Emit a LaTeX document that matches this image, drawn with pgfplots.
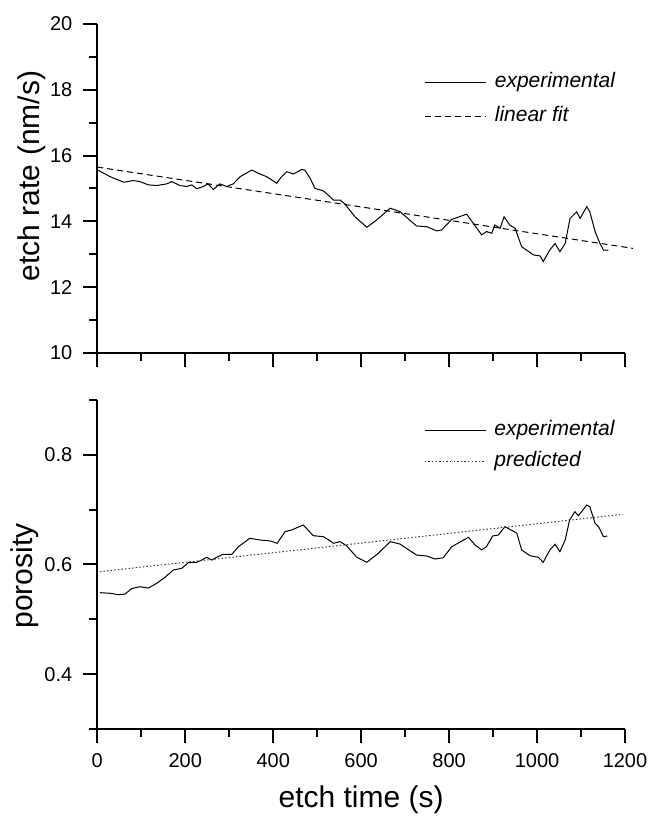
\documentclass[border=0pt]{standalone}
\usepackage{fontspec}
\setmainfont{Liberation Sans}
\usepackage{pgfplots}
\pgfplotsset{compat=1.18}

\pgfplotsset{
  common/.style={
    scale only axis,
    width=263.85bp, height=164.5bp,
    xmin=0, xmax=1200,
    axis x line*=bottom, axis y line*=left,
    x axis line style={-, line width=1bp},
    y axis line style={-, line width=1bp},
    tick align=outside,
    major tick length=7bp, minor tick length=4bp,
    every tick/.style={black, line width=1bp},
    xtick={0,200,...,1200}, minor x tick num=1,
    /pgf/number format/assume math mode=true,
    /pgf/number format/set thousands separator={},
    tick label style={font=\fontsize{10bp}{12bp}\selectfont},
    yticklabel style={xshift=-2bp},
    xticklabel style={yshift=-1.5bp},
    label style={font=\fontsize{15bp}{18bp}\selectfont},
    legend cell align=left,
    legend image code/.code={\draw[#1] (0bp,0bp) -- (30.5bp,0bp);},
    legend style={draw=none, fill=none, inner sep=0pt, column sep=4bp,
      font=\fontsize{10.5bp}{12bp}\selectfont\itshape,
      nodes={inner sep=0pt, text height=0.75em, text depth=0.25em}},
  },
  expstyle/.style={black, line width=0.5bp},
}

\begin{document}
\begin{tikzpicture}
\useasboundingbox (0,0) rectangle (324.5bp,412bp);

% ---------- top: etch rate ----------
\begin{axis}[common,
  at={(48.65bp,235.5bp)}, anchor=south west,
  ymin=10, ymax=20, ytick={10,12,...,20}, minor y tick num=1,
  xticklabels={},
  clip=false,
  ylabel={etch rate (nm/s)},
  ylabel style={at={(axis description cs:-0.125,0.538)}, anchor=center},
  legend style={at={(axis description cs:0.62,0.8526)}, anchor=north west, row sep=7bp},
]
\addplot[expstyle] coordinates {
(1,15.56) (29,15.36) (60,15.19) (82,15.24) (97,15.21) (116,15.11) (135,15.09)
(158,15.14) (169,15.21) (188,15.09) (203,15.06) (215,15.11) (226,14.99) (241,15.06)
(252,15.14) (264,14.97) (279,15.14) (294,15.06) (309,15.14) (325,15.36) (351,15.56)
(370,15.44) (385,15.36) (408,15.16) (419,15.36) (431,15.51) (446,15.44) (465,15.58)
(472,15.56) (484,15.31) (495,15.00) (514,14.93) (529,14.75) (537,14.65) (552,14.65)
(563,14.53) (586,14.14) (613,13.82) (635,14.04) (666,14.40) (688,14.30) (726,13.86)
(749,13.84) (772,13.71) (783,13.74) (806,14.06) (840,14.22) (855,13.94) (874,13.59)
(885,13.69) (897,13.64) (904,13.89) (916,13.79) (925,14.14) (938,13.89) (950,13.79)
(965,13.23) (992,12.98) (1007,12.95) (1014,12.78) (1029,13.13) (1041,13.33) (1052,13.08)
(1064,13.33) (1075,14.09) (1090,14.29) (1098,14.09) (1113,14.45) (1120,14.29) (1132,13.69)
(1143,13.33) (1151,13.13) (1162,13.13)
};
\addlegendentry{experimental}
\addplot[black, line width=0.5bp, dash pattern=on 3bp off 2bp] coordinates {
(0,15.65) (600,14.44) (1218,13.18)
};
\addlegendentry{linear fit}
\end{axis}

% ---------- bottom: porosity ----------
\begin{axis}[common,
  at={(48.65bp,47.5bp)}, anchor=south west,
  ymin=0.3, ymax=0.9, ytick={0.4,0.6,0.8}, minor ytick={0.3,0.5,0.7,0.9},
  yticklabel style={/pgf/number format/fixed, /pgf/number format/precision=1},
  clip=false,
  xlabel={etch time (s)},
  xlabel style={at={(axis description cs:0.5,0)}, anchor=center, yshift=-35.5bp},
  ylabel={porosity},
  ylabel style={at={(axis description cs:-0.137,0.465)}, anchor=center},
  legend style={at={(axis description cs:0.619,0.9377)}, anchor=north west, row sep=5.5bp},
]
\addplot[expstyle] coordinates {
(6,0.5486) (29,0.5475) (48,0.545) (63,0.546) (78,0.556) (97,0.5595) (116,0.557)
(135,0.5657) (154,0.5767) (173,0.590) (192,0.593) (207,0.6033) (226,0.604) (237,0.608)
(249,0.6131) (260,0.608) (271,0.613) (286,0.6186) (306,0.6186) (321,0.6325) (347,0.6478)
(370,0.6447) (393,0.643) (409,0.6387) (427,0.660) (442,0.663) (468,0.672) (472,0.669)
(491,0.6526) (514,0.6507) (529,0.6434) (537,0.6387) (552,0.6416) (567,0.6343) (590,0.6131)
(613,0.604) (639,0.6204) (666,0.6416) (688,0.6374) (726,0.6173) (749,0.6155) (768,0.610)
(787,0.6124) (806,0.6325) (844,0.6496) (859,0.6356) (874,0.6265) (885,0.6325) (899,0.652)
(912,0.6538) (927,0.669) (938,0.6642) (954,0.657) (965,0.6265) (984,0.616) (1003,0.6131)
(1014,0.604) (1029,0.6265) (1041,0.6369) (1052,0.6234) (1064,0.6447) (1074,0.681)
(1086,0.6963) (1094,0.689) (1113,0.7085) (1120,0.7054) (1132,0.675) (1140,0.669)
(1151,0.6507) (1160,0.652)
};
\addlegendentry{experimental}
\addplot[black!80, line width=0.5bp, dash pattern=on 0.7bp off 1.1bp] coordinates {
(6,0.587) (600,0.639) (1195,0.6916)
};
\addlegendentry{predicted}
\end{axis}
\end{tikzpicture}
\end{document}
